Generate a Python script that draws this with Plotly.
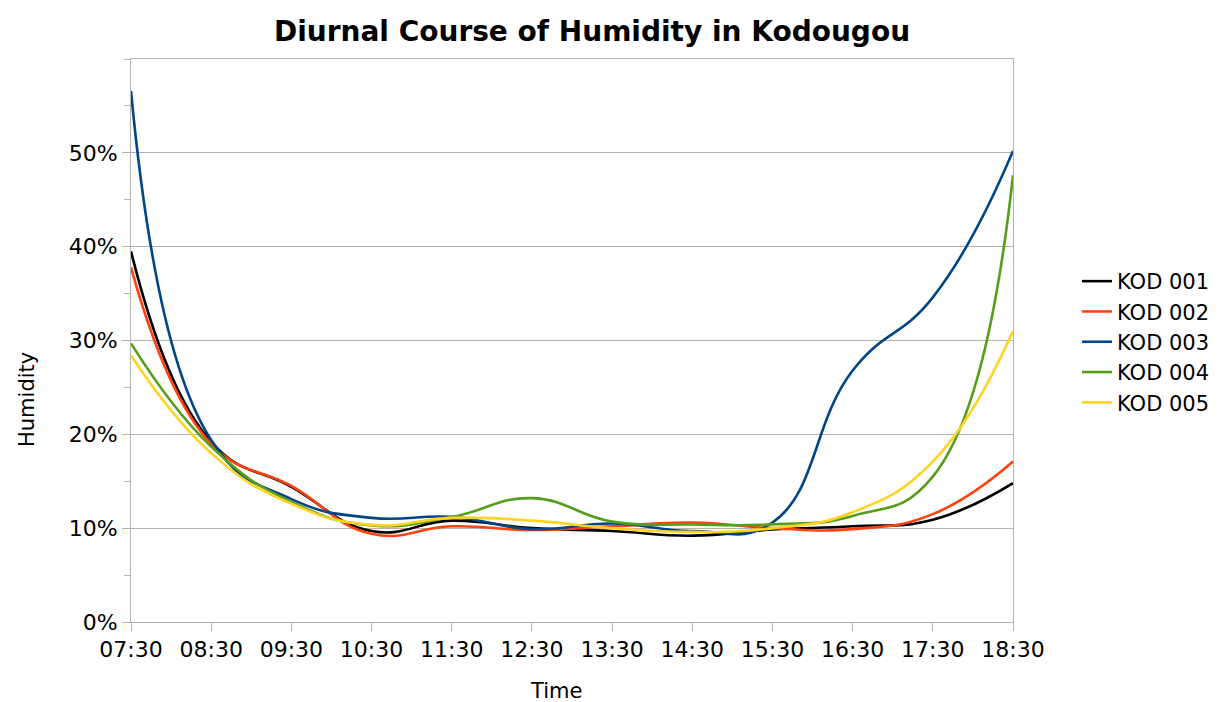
import plotly.graph_objects as go

# Hourly readings, relative humidity in percent
times = ["07:30", "08:30", "09:30", "10:30", "11:30", "12:30",
         "13:30", "14:30", "15:30", "16:30", "17:30", "18:30"]

kod_001 = [39.5, 19.2, 14.4, 9.7, 10.8, 10.0, 9.7, 9.2, 9.85, 10.2, 10.9, 14.8]
kod_002 = [37.8, 19.0, 14.5, 9.4, 10.2, 9.8, 10.2, 10.6, 10.0, 9.9, 11.5, 17.1]
kod_003 = [56.6, 19.4, 13.1, 11.1, 11.2, 9.9, 10.5, 9.7, 10.6, 26.8, 34.6, 50.2]
kod_004 = [29.7, 18.7, 12.8, 10.3, 11.2, 13.2, 10.7, 10.4, 10.4, 11.3, 15.5, 47.6]
kod_005 = [28.4, 18.0, 12.6, 10.35, 11.1, 10.8, 10.0, 9.6, 10.0, 11.7, 17.1, 31.0]

station_names = ["KOD 001", "KOD 002", "KOD 003", "KOD 004", "KOD 005"]
station_values = [kod_001, kod_002, kod_003, kod_004, kod_005]
station_colors = ["#000000", "#FF420E", "#004586", "#579D1C", "#FFD320"]

y_ticks = [0, 10, 20, 30, 40, 50]
y_labels = [f"{v}%" for v in y_ticks]

FONT = "DejaVu Sans"
GRID = "#b3b3b3"

# plot area in pixels
W, H = 1230, 702
L, R, T, B = 131, 217, 59, 80
plot_w = W - L - R
plot_h = H - T - B


def px_x(px):
    return (px - L) / plot_w


def px_y(py):
    return (H - B - py) / plot_h


fig = go.Figure()
for name, vals, color in zip(station_names, station_values, station_colors):
    fig.add_trace(go.Scatter(
        x=times, y=vals, name=name, mode="lines",
        line=dict(color=color, width=2.6, shape="spline", smoothing=1.3),
    ))

fig.update_layout(
    width=W, height=H,
    paper_bgcolor="white", plot_bgcolor="white",
    margin=dict(l=L, r=R, t=T, b=B),
    font=dict(family=FONT, size=22, color="#000000"),
    title=dict(
        text="<b>Diurnal Course of Humidity in Kodougou</b>",
        font=dict(family=FONT, size=28, color="#000000"),
        x=592 / W, xanchor="center", xref="container",
        y=1 - 31 / H, yanchor="middle", yref="container",
    ),
    showlegend=True,
    legend=dict(
        x=px_x(1077), xanchor="left",
        y=px_y(342), yanchor="middle",
        font=dict(family=FONT, size=21, color="#000000"),
        bgcolor="rgba(0,0,0,0)", tracegroupgap=0,
    ),
    xaxis=dict(
        type="category", range=[0, len(times) - 1],
        showgrid=False, zeroline=False,
        showline=True, linecolor=GRID, linewidth=1, mirror=True,
        ticks="outside", ticklen=8, tickcolor=GRID, tickwidth=1,
        tickfont=dict(family=FONT, size=22),
    ),
    yaxis=dict(
        range=[0, 60], tickvals=y_ticks, ticktext=y_labels,
        showgrid=True, gridcolor=GRID, gridwidth=1, zeroline=False,
        showline=True, linecolor=GRID, linewidth=1, mirror=True,
        ticks="outside", ticklen=8, tickcolor=GRID, tickwidth=1,
        minor=dict(dtick=5, tick0=5, ticks="outside", ticklen=6,
                   tickcolor=GRID, showgrid=False),
        tickfont=dict(family=FONT, size=22),
    ),
    annotations=[
        dict(text="Time", x=px_x(556), y=px_y(691),
             xref="paper", yref="paper",
             xanchor="center", yanchor="middle",
             showarrow=False, font=dict(family=FONT, size=21)),
        dict(text="Humidity", x=px_x(27), y=px_y(400),
             xref="paper", yref="paper",
             xanchor="center", yanchor="middle",
             showarrow=False, textangle=-90, font=dict(family=FONT, size=21)),
    ],
)

fig.write_html("out.html")
